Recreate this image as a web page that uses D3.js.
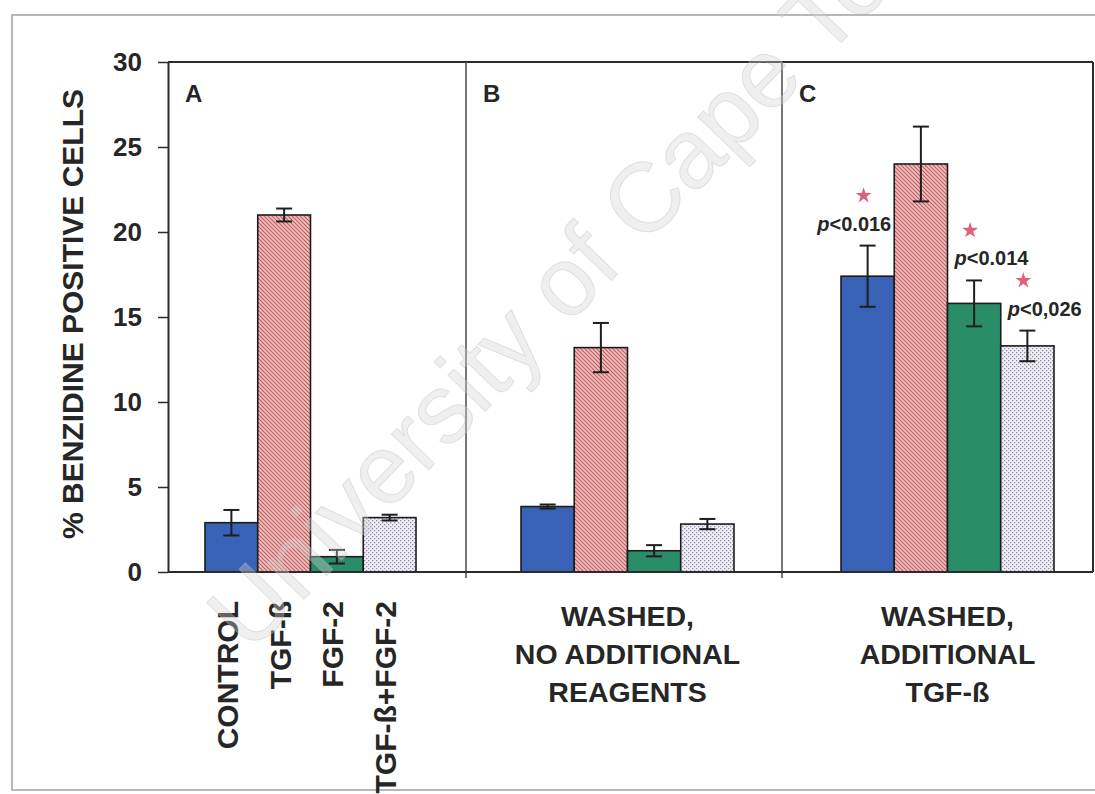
<!DOCTYPE html>
<html>
<head>
<meta charset="utf-8">
<script src="https://cdn.jsdelivr.net/npm/d3@7"></script>
<style>
  html, body { margin: 0; padding: 0; background: #fff; }
  svg { display: block; }
  text { font-family: "Liberation Sans", Arial, Helvetica, sans-serif; }
</style>
</head>
<body>
<svg id="chart" width="1095" height="794"></svg>
<script>
// ---- data ----
const treatments = ["CONTROL", "TGF-ß", "FGF-2", "TGF-ß+FGF-2"];
const panels = ["A", "B", "C"];
const meanA = [2.9, 21.0, 0.9, 3.2];
const errA  = [0.75, 0.38, 0.4, 0.17];
const meanB = [3.85, 13.2, 1.25, 2.82];
const errB  = [0.12, 1.45, 0.33, 0.3];
const meanC = [17.4, 24.0, 15.8, 13.3];
const errC  = [1.8, 2.2, 1.35, 0.9];
const pLabelsC = ["<0.016", "", "<0.014", "<0,026"];
const groupLabelsB = ["WASHED,", "NO ADDITIONAL", "REAGENTS"];
const groupLabelsC = ["WASHED,", "ADDITIONAL", "TGF-ß"];
const yTicks = [0, 5, 10, 15, 20, 25, 30];
const yTitle = "% BENZIDINE POSITIVE CELLS";
const watermark = "University of Cape Town";

// ---- layout ----
const W = 1095, H = 794;
const plot = { left: 168, right: 1093, top: 62, bottom: 572 };
const panelEdges = [168, 466, 782, 1093];
const barSpans = [[205, 416], [521, 734], [841, 1054]];
const textColor = "#262626";
const lineColor = "#2b2b2b";

const svg = d3.select("#chart");
const defs = svg.append("defs");

// diagonal hatch for TGF-ß bars
const hatch = defs.append("pattern")
  .attr("id", "hatchPink").attr("patternUnits", "userSpaceOnUse")
  .attr("width", 4).attr("height", 4);
hatch.append("rect").attr("width", 4).attr("height", 4).attr("fill", "#f0c0c0");
hatch.append("path").attr("d", "M-1,-1L5,5M-1,3L1,5M3,-1L5,1")
  .attr("stroke", "#c25c60").attr("stroke-width", 1.1);

// fine dotted crosshatch for the combination bars
const dots = defs.append("pattern")
  .attr("id", "dotsLilac").attr("patternUnits", "userSpaceOnUse")
  .attr("width", 4).attr("height", 4);
dots.append("rect").attr("width", 4).attr("height", 4).attr("fill", "#efedf5");
dots.append("rect").attr("x", 0).attr("y", 0).attr("width", 1.3).attr("height", 1.3).attr("fill", "#9390a6");
dots.append("rect").attr("x", 2).attr("y", 2).attr("width", 1.3).attr("height", 1.3).attr("fill", "#9390a6");

const fills = ["#3762b5", "url(#hatchPink)", "#2a8d69", "url(#dotsLilac)"];

// outer photo frame
svg.append("rect")
  .attr("x", 12).attr("y", 15).attr("width", W + 10).attr("height", 775)
  .attr("fill", "none").attr("stroke", "#b8b8b8").attr("stroke-width", 2);

// ---- scales ----
const y = d3.scaleLinear().domain([0, 30]).range([plot.bottom, plot.top]);
const xPanel = panels.map((p, i) =>
  d3.scaleBand().domain(treatments).range(barSpans[i]).paddingInner(0).paddingOuter(0));

// ---- frame lines ----
svg.append("line")
  .attr("x1", plot.left).attr("x2", plot.right)
  .attr("y1", plot.top).attr("y2", plot.top)
  .attr("stroke", lineColor).attr("stroke-width", 2);
svg.append("line")
  .attr("x1", plot.right).attr("x2", plot.right)
  .attr("y1", plot.top).attr("y2", plot.bottom)
  .attr("stroke", lineColor).attr("stroke-width", 2);
svg.selectAll("line.divider")
  .data(panelEdges.slice(1, -1))
  .join("line").attr("class", "divider")
  .attr("x1", d => d).attr("x2", d => d)
  .attr("y1", plot.top).attr("y2", plot.bottom + 6)
  .attr("stroke", "#4a4a4a").attr("stroke-width", 1.5);

// ---- y axis ----
const yAxis = svg.append("g")
  .attr("transform", `translate(${plot.left},0)`)
  .call(d3.axisLeft(y).tickValues(yTicks).tickSize(10).tickSizeOuter(0).tickPadding(16));
yAxis.select(".domain").attr("stroke", lineColor).attr("stroke-width", 2);
yAxis.selectAll(".tick line").attr("stroke", lineColor).attr("stroke-width", 1.5);
yAxis.selectAll(".tick text")
  .attr("fill", textColor)
  .style("font-size", "26px").style("font-weight", "bold")
  .style("font-family", "'Liberation Sans', Arial, sans-serif");

svg.append("text")
  .attr("transform", `translate(72,${(plot.top + plot.bottom) / 2 - 3}) rotate(-90)`)
  .attr("text-anchor", "middle").attr("dy", "0.35em")
  .attr("fill", textColor)
  .style("font-size", "30px").style("font-weight", "bold")
  .text(yTitle);

// ---- bars ----
const seriesMeans = [meanA, meanB, meanC];
const seriesErrs = [errA, errB, errC];

panels.forEach((p, i) => {
  const x = xPanel[i];
  const rows = treatments.map((t, j) => ({ t, j, m: seriesMeans[i][j], e: seriesErrs[i][j] }));
  const g = svg.append("g").attr("class", "panel-" + p);

  g.selectAll("rect.bar").data(rows).join("rect")
    .attr("class", "bar")
    .attr("x", d => x(d.t))
    .attr("y", d => y(d.m))
    .attr("width", x.bandwidth())
    .attr("height", d => y(0) - y(d.m))
    .attr("fill", d => fills[d.j])
    .attr("stroke", "#1c1c1c").attr("stroke-width", 1.6);

  const cx = d => x(d.t) + x.bandwidth() / 2;
  const eb = g.selectAll("g.err").data(rows).join("g").attr("class", "err")
    .attr("stroke", "#1e1e1e").attr("stroke-width", 2);
  eb.append("line").attr("x1", cx).attr("x2", cx)
    .attr("y1", d => y(d.m + d.e)).attr("y2", d => y(d.m - d.e));
  eb.append("line").attr("x1", d => cx(d) - 8).attr("x2", d => cx(d) + 8)
    .attr("y1", d => y(d.m + d.e)).attr("y2", d => y(d.m + d.e));
  eb.append("line").attr("x1", d => cx(d) - 8).attr("x2", d => cx(d) + 8)
    .attr("y1", d => y(d.m - d.e)).attr("y2", d => y(d.m - d.e));

  // panel letter
  g.append("text")
    .attr("x", panelEdges[i] + 17).attr("y", 102)
    .attr("fill", textColor)
    .style("font-size", "24px").style("font-weight", "bold")
    .text(p);
});

// x axis baseline
svg.append("line")
  .attr("x1", plot.left).attr("x2", plot.right)
  .attr("y1", plot.bottom).attr("y2", plot.bottom)
  .attr("stroke", lineColor).attr("stroke-width", 2);

// ---- significance marks on panel C ----
{
  const x = xPanel[2];
  const rows = treatments.map((t, j) => ({ t, j, m: meanC[j], e: errC[j], lab: pLabelsC[j] }))
    .filter(d => d.lab !== "");
  const g = svg.append("g").attr("class", "signif");
  const star = d3.symbol().type(d3.symbolStar).size(80);
  g.selectAll("path.star").data(rows).join("path")
    .attr("class", "star")
    .attr("d", star)
    .attr("transform", d => `translate(${x(d.t) + x.bandwidth() / 2 - 4},${y(d.m + d.e) - 50})`)
    .attr("fill", "#e0607c");

  const lab = g.selectAll("text.p").data(rows).join("text")
    .attr("class", "p")
    .attr("x", (d, k) => k === 0 ? x(d.t) + x.bandwidth() - 3 : x(d.t) + 7)
    .attr("y", d => y(d.m + d.e) - 15)
    .attr("text-anchor", (d, k) => k === 0 ? "end" : "start")
    .attr("fill", textColor)
    .style("font-size", "20px").style("font-weight", "bold");
  lab.append("tspan").style("font-style", "italic").text("p");
  lab.append("tspan").text(d => d.lab);
}

// ---- category labels ----
{
  const x = xPanel[0];
  svg.selectAll("text.cat").data(treatments).join("text")
    .attr("class", "cat")
    .attr("transform", d => `translate(${x(d) + x.bandwidth() / 2 - 4},601) rotate(-90)`)
    .attr("text-anchor", "end").attr("dy", "0.35em")
    .attr("fill", textColor)
    .style("font-size", "30px").style("font-weight", "bold")
    .text(d => d);

  [[1, groupLabelsB], [2, groupLabelsC]].forEach(([i, lines]) => {
    const cx = (barSpans[i][0] + barSpans[i][1]) / 2;
    svg.append("g").selectAll("text").data(lines).join("text")
      .attr("x", cx).attr("y", (d, k) => 626 + k * 38)
      .attr("text-anchor", "middle")
      .attr("fill", textColor)
      .style("font-size", "28.5px").style("font-weight", "bold")
      .text(d => d);
  });
}

// ---- watermark ----
svg.append("text")
  .attr("transform", "translate(250,655) rotate(-46)")
  .attr("fill", "#d2d2d2").attr("fill-opacity", 0.36)
  .attr("stroke", "#bdbdbd").attr("stroke-opacity", 0.4).attr("stroke-width", 1)
  .style("font-size", "98px")
  .style("pointer-events", "none")
  .text(watermark);
</script>
</body>
</html>
